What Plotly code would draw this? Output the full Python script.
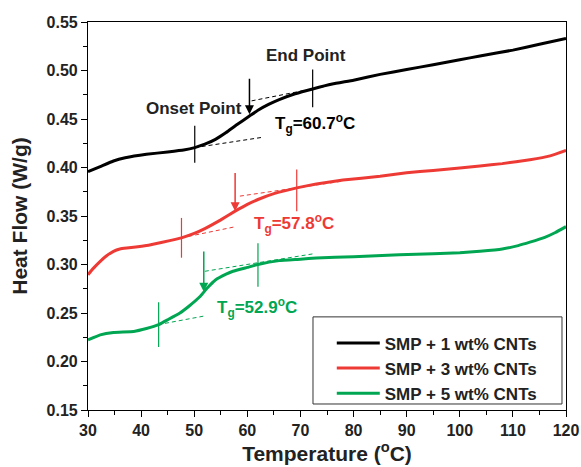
import plotly.graph_objects as go

# ---------------- data ----------------
T_1wt = [30, 32.3, 34.8, 37, 41, 45, 48, 50.1, 52, 54, 56, 58, 60.4, 62, 64, 66, 69, 72.3,
         76, 80, 85, 90, 95, 100, 103.8, 110, 115, 120]
HF_1wt = [0.3957, 0.401, 0.4067, 0.410, 0.4136, 0.416, 0.418, 0.4205, 0.424, 0.429, 0.436,
          0.444, 0.453, 0.459, 0.465, 0.470, 0.476, 0.481, 0.486, 0.490, 0.496, 0.501, 0.506,
          0.511, 0.515, 0.521, 0.527, 0.533]

T_3wt = [30, 31, 32.3, 33.5, 34.8, 36, 37.3, 39, 41, 44, 47.6, 50, 52, 55, 57.7, 60, 62, 65,
         69.3, 73, 78, 85, 90, 95, 100, 103.8, 108, 113.2, 117, 120]
HF_3wt = [0.2895, 0.296, 0.3033, 0.309, 0.3136, 0.316, 0.317, 0.318, 0.3195, 0.323, 0.3275,
          0.332, 0.337, 0.346, 0.355, 0.362, 0.367, 0.373, 0.379, 0.383, 0.387, 0.391, 0.3945,
          0.397, 0.3995, 0.4015, 0.404, 0.408, 0.412, 0.4177]

T_5wt = [30, 32.3, 34.8, 38.6, 41, 43.3, 45, 47.3, 49, 51.1, 52.5, 54, 56, 57.3, 60, 62, 66,
         70, 73, 80, 88.6, 95, 100, 103.8, 108, 111, 113.2, 116, 118, 120]
HF_5wt = [0.2224, 0.2275, 0.230, 0.231, 0.234, 0.238, 0.243, 0.250, 0.257, 0.267, 0.276,
          0.284, 0.290, 0.293, 0.297, 0.300, 0.304, 0.3055, 0.3068, 0.308, 0.310, 0.311,
          0.312, 0.3136, 0.316, 0.3195, 0.323, 0.328, 0.333, 0.339]

series_names = ["SMP + 1 wt% CNTs", "SMP + 3 wt% CNTs", "SMP + 5 wt% CNTs"]
Tg_values = [60.7, 57.8, 52.9]

# Tg analysis markers (temperature, heat-flow span)
onset_T = [50.1, 47.6, 43.3]
onset_lo = [0.405, 0.307, 0.215]
onset_hi = [0.443, 0.348, 0.261]
end_T = [72.3, 69.3, 62.0]
end_lo = [0.462, 0.355, 0.277]
end_hi = [0.501, 0.398, 0.322]
arrow_T = [60.4, 57.7, 51.8]
arrow_tail = [0.493, 0.396, 0.315]
arrow_head = [0.455, 0.355, 0.272]
# tangent (dashed) lines
low_T = [(50.1, 62.7), (47.6, 57.7), (43.2, 52.0)]
low_HF = [(0.4205, 0.431), (0.3275, 0.3389), (0.238, 0.247)]
up_T = [(60.8, 74.5), (58.6, 78.0), (52.0, 72.4)]
up_HF = [(0.4687, 0.4835), (0.3705, 0.386), (0.293, 0.311)]
# Tg label anchor (left, middle)
lab_T = [64.8, 60.8, 53.9]
lab_HF = [0.445, 0.342, 0.256]

colors = ["#000000", "#EE3A35", "#00A651"]
FONT = "Liberation Sans, Arial, sans-serif"

fig = go.Figure()
for T, HF, name, c in zip([T_1wt, T_3wt, T_5wt], [HF_1wt, HF_3wt, HF_5wt], series_names, colors):
    fig.add_trace(go.Scatter(x=T, y=HF, mode="lines", name=name,
                             line=dict(color=c, width=3, shape="spline", smoothing=0.3)))

for i, c in enumerate(colors):
    for xx, lo, hi in [(onset_T[i], onset_lo[i], onset_hi[i]), (end_T[i], end_lo[i], end_hi[i])]:
        fig.add_trace(go.Scatter(x=[xx, xx], y=[lo, hi], mode="lines", showlegend=False,
                                 hoverinfo="skip", line=dict(color=c, width=1.2)))
    fig.add_trace(go.Scatter(x=list(low_T[i]), y=list(low_HF[i]), mode="lines", showlegend=False,
                             hoverinfo="skip", line=dict(color=c, width=1, dash="4px,3px")))
    fig.add_trace(go.Scatter(x=list(up_T[i]), y=list(up_HF[i]), mode="lines", showlegend=False,
                             hoverinfo="skip", line=dict(color=c, width=1, dash="4px,3px")))
    fig.add_annotation(x=arrow_T[i], y=arrow_head[i], ax=arrow_T[i], ay=arrow_tail[i],
                       xref="x", yref="y", axref="x", ayref="y", text="", showarrow=True,
                       arrowhead=2, arrowsize=1.2, arrowwidth=1.5, arrowcolor=c)
    fig.add_annotation(x=lab_T[i], y=lab_HF[i], xref="x", yref="y", showarrow=False,
                       xanchor="left", yanchor="middle",
                       text="T<sub>g</sub>=" + f"{Tg_values[i]:.1f}" + "<sup>o</sup>C",
                       font=dict(family=FONT, size=17, color=c, weight="bold"))

fig.add_annotation(x=50.0, y=0.461, xref="x", yref="y", showarrow=False, text="Onset Point",
                   font=dict(family=FONT, size=17, color="#222", weight="bold"))
fig.add_annotation(x=71.0, y=0.515, xref="x", yref="y", showarrow=False, text="End Point",
                   font=dict(family=FONT, size=17, color="#222", weight="bold"))

fig.add_shape(type="rect", xref="paper", yref="paper", x0=0.4707, x1=0.9916, y0=0.0155, y1=0.24,
              line=dict(color="#333", width=1), fillcolor="rgba(0,0,0,0)")

axis_common = dict(showline=True, linecolor="black", linewidth=1.2, mirror=True,
                   ticks="outside", ticklen=6, tickwidth=1.2, tickcolor="black",
                   showgrid=False, zeroline=False, automargin=False,
                   tickfont=dict(family=FONT, size=16, color="#222", weight="bold"))

fig.update_layout(
    width=581, height=467,
    margin=dict(l=88, r=15, t=22, b=57),
    plot_bgcolor="white", paper_bgcolor="white",
    font=dict(family=FONT, color="#222"),
    xaxis=dict(range=[30, 120], dtick=10, tick0=30,
               minor=dict(ticks="outside", ticklen=4, tickwidth=1.2, tickcolor="black", dtick=5),
               title=dict(text="Temperature (<sup>o</sup>C)", standoff=2,
                          font=dict(family=FONT, size=21, color="#222", weight="bold")),
               **axis_common),
    yaxis=dict(range=[0.15, 0.55], dtick=0.05, tick0=0.15, tickformat=".2f",
               minor=dict(ticks="outside", ticklen=4, tickwidth=1.2, tickcolor="black", dtick=0.025),
               title=dict(text="Heat Flow (W/g)", standoff=13,
                          font=dict(family=FONT, size=21, color="#222", weight="bold")),
               **axis_common),
    legend=dict(x=0.51, y=0.218, xanchor="left", yanchor="top", bgcolor="rgba(0,0,0,0)",
                borderwidth=0, itemwidth=43,
                font=dict(family=FONT, size=17, color="#222", weight="bold")),
    showlegend=True,
)

fig.write_html("out.html", config={"displayModeBar": False},
               post_script="document.body.style.margin='0';document.body.style.overflow='hidden';")
